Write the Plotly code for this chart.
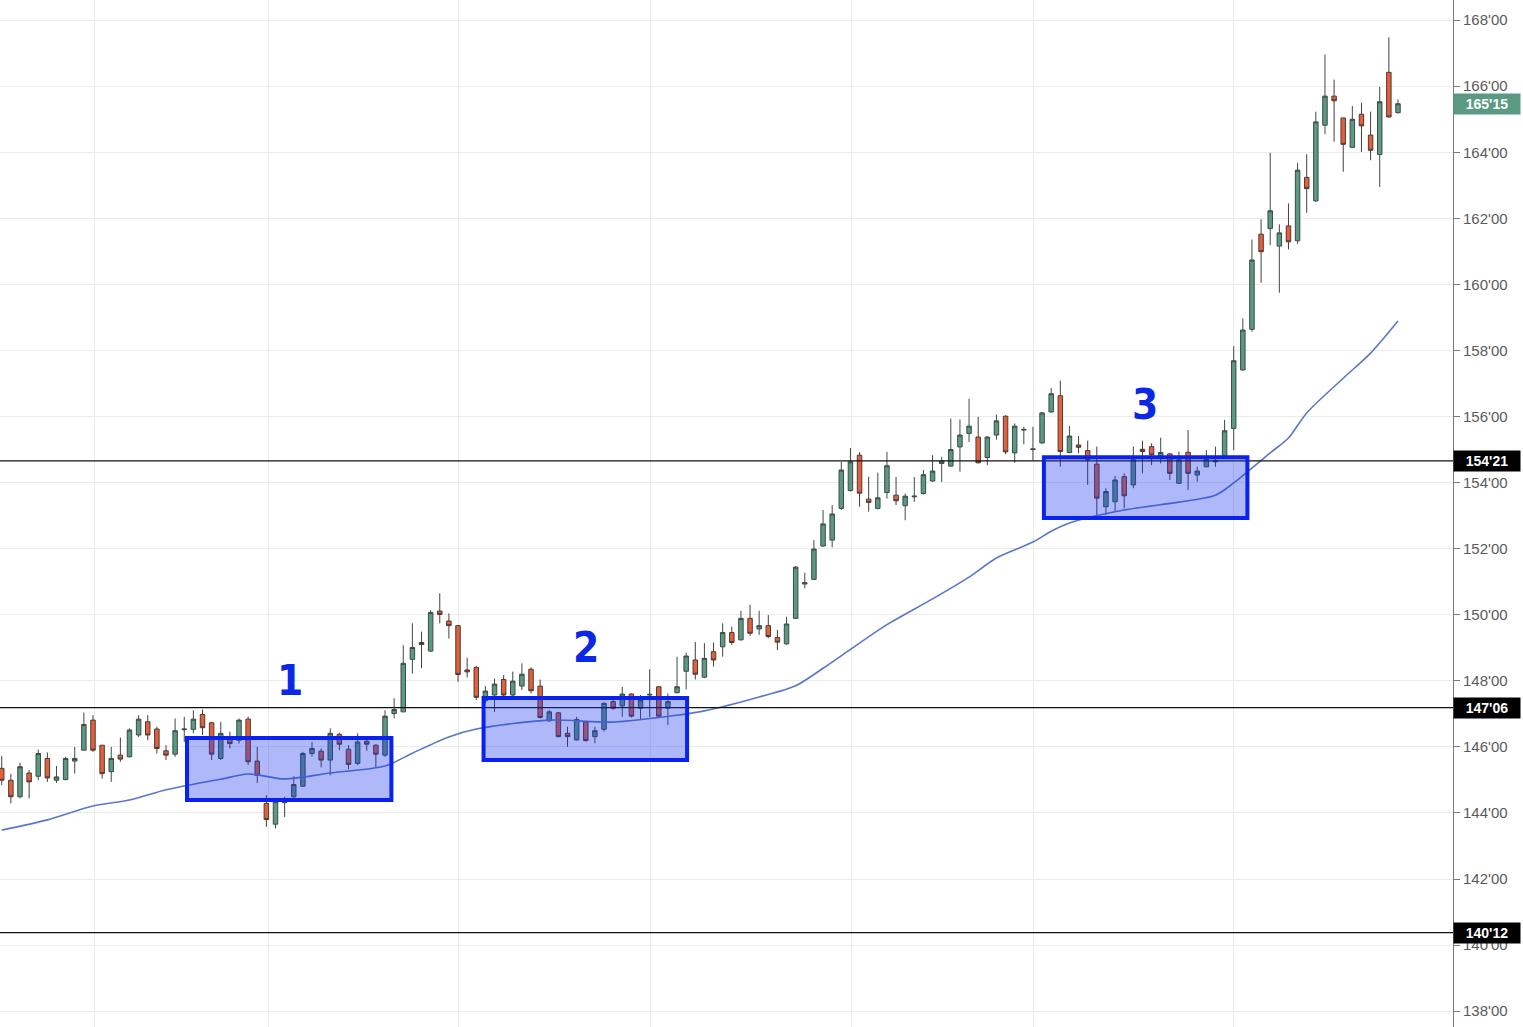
import plotly.graph_objects as go

# ---------------- data ----------------
opens = [145.35,144.99,144.49,145.21,145.11,145.65,144.99,145.01,145.57,145.90,
         146.81,146.05,145.25,145.75,145.70,146.36,146.76,146.54,145.88,145.78,
         146.52,146.53,146.98,146.73,145.65,146.28,146.20,146.84,145.57,144.29,
         143.66,144.31,144.49,144.81,145.80,145.87,145.60,146.38,145.93,145.50,
         146.17,146.05,145.75,147.01,147.06,148.65,149.16,148.90,150.11,149.81,
         149.67,148.33,148.40,147.40,147.57,148.04,147.57,147.84,148.35,147.84,
         146.79,147.03,146.41,146.21,146.76,146.31,146.53,147.37,147.24,147.60,
         147.17,147.57,147.82,147.17,147.64,148.29,148.63,148.11,148.88,149.03,
         149.46,149.24,149.89,149.57,149.67,149.31,149.12,149.89,150.93,151.07,
         152.08,152.26,153.22,153.76,154.83,153.50,153.22,153.70,153.62,153.30,
         153.57,153.67,154.05,154.58,154.50,155.08,155.49,155.38,154.76,155.44,
         156.01,154.90,155.59,155.00,155.20,156.14,156.63,154.91,155.14,154.97,
         154.56,153.27,153.42,154.18,153.93,155.01,155.09,154.81,154.87,153.98,
         154.92,154.23,154.48,154.63,154.81,155.64,157.41,158.64,161.52,161.69,
         161.16,161.77,161.32,163.24,162.53,164.82,165.70,165.04,164.15,165.15,
         164.52,163.93,166.42,165.20]
highs = [145.72,145.19,145.52,145.30,145.92,145.83,145.42,145.70,146.00,147.04,
         146.96,146.05,146.00,146.28,146.56,146.96,146.96,146.61,146.05,146.86,
         146.91,147.11,147.13,146.76,146.76,146.46,146.86,146.91,146.00,144.54,
         144.44,144.49,145.11,145.85,146.15,145.95,146.56,146.43,146.05,146.41,
         146.30,146.08,147.11,147.47,149.08,149.74,149.49,150.14,150.65,150.04,
         149.69,148.70,148.45,147.84,148.07,148.17,148.28,148.53,148.41,148.04,
         147.12,147.06,146.61,146.91,146.79,146.61,147.34,147.42,147.82,147.62,
         147.57,148.35,147.84,147.62,148.73,148.85,149.18,149.14,149.16,149.74,
         149.64,150.12,150.30,150.12,149.99,149.54,149.94,151.48,151.27,152.26,
         153.17,153.32,154.63,155.05,154.92,154.18,154.30,154.93,154.17,153.67,
         154.17,154.38,154.83,154.78,155.94,155.91,156.54,155.99,155.40,156.06,
         156.04,155.79,155.69,155.69,156.14,156.86,157.09,155.71,155.41,155.27,
         155.09,153.83,154.20,154.28,155.09,155.27,155.19,155.36,154.89,154.94,
         155.59,154.48,154.99,155.09,155.90,158.13,158.97,161.36,161.97,163.98,
         161.82,162.45,163.68,163.94,165.23,166.96,166.20,165.04,165.40,165.50,
         165.23,165.98,167.48,165.60]
lows = [144.84,144.29,144.44,144.44,144.99,144.94,144.91,144.99,145.19,145.90,
        145.85,145.04,144.94,145.55,145.68,146.30,146.20,145.80,145.60,145.70,
        146.15,146.41,146.36,145.60,145.60,145.95,146.10,145.45,144.91,143.58,
        143.53,143.88,144.44,144.79,145.70,145.38,145.14,145.90,145.32,145.45,
        145.88,145.38,145.70,146.86,147.06,148.22,148.38,148.88,149.74,149.28,
        147.97,148.10,147.42,147.32,147.06,147.47,147.54,147.72,147.62,146.86,
        146.76,146.29,146.00,146.19,146.16,146.11,146.46,147.12,146.91,146.89,
        146.81,146.91,146.89,146.66,147.62,147.74,148.04,148.08,148.43,148.73,
        149.09,149.22,149.36,149.39,149.29,148.93,149.09,149.89,150.80,151.05,
        152.06,152.04,153.17,153.73,153.27,153.12,153.19,153.52,153.32,152.86,
        153.42,153.64,154.02,154.02,154.48,154.33,155.23,154.58,154.53,155.30,
        154.86,154.60,155.16,154.68,155.18,156.12,154.48,154.89,154.89,153.93,
        153.02,153.02,153.12,153.22,153.83,154.28,154.53,154.58,154.08,153.96,
        153.78,154.03,154.46,154.48,154.81,154.98,157.39,158.57,160.05,161.19,
        159.75,161.06,161.22,162.17,162.50,164.55,164.32,163.41,164.14,164.01,
        163.76,162.95,165.05,165.17]
closes = [144.99,144.49,145.40,144.94,145.80,145.06,145.09,145.65,145.65,146.68,
          145.90,145.19,145.65,145.63,146.51,146.84,146.36,145.95,145.75,146.49,
          146.54,146.84,146.58,145.78,146.41,146.10,146.81,145.55,145.14,143.80,
          144.34,144.34,144.86,145.80,145.95,145.60,146.41,146.08,145.47,146.15,
          146.08,145.78,146.93,147.13,148.53,149.01,149.10,150.07,150.01,149.67,
          148.19,148.27,147.50,147.69,147.90,147.57,147.99,148.20,147.70,146.89,
          147.06,146.31,146.31,146.83,146.19,146.49,147.32,147.17,147.60,146.93,
          147.42,147.59,146.93,147.37,147.82,148.75,148.20,148.68,148.63,149.46,
          149.16,149.89,149.44,149.67,149.34,149.17,149.72,151.44,150.97,151.99,
          152.75,153.05,154.38,154.63,153.68,153.40,153.54,154.51,153.45,153.59,
          153.59,154.24,154.35,154.65,155.00,155.44,155.71,154.60,155.38,155.87,
          154.93,155.71,155.61,155.02,156.11,156.69,154.94,155.41,155.07,154.69,
          153.53,153.73,154.08,153.60,154.69,154.94,154.84,154.91,154.28,154.69,
          154.28,154.35,154.71,154.66,155.57,157.69,158.62,160.74,160.99,162.23,
          161.56,161.29,163.46,162.90,164.92,165.70,165.56,164.24,165.00,164.80,
          164.06,165.53,165.07,165.47]

# moving average read at selected bars
ma_bar = [0, 5, 10, 14, 18, 21, 24, 27, 31, 36, 42, 45, 49, 52, 60, 67, 74, 77,
          83, 87, 90, 93, 97, 102, 106, 109, 113, 115, 117, 123, 129, 133, 135,
          139, 141, 143, 147, 150, 153]
ma_val = [143.48, 143.79, 144.21, 144.39, 144.70, 144.87, 145.02, 145.18, 145.03,
          145.21, 145.42, 145.81, 146.30, 146.54, 146.81, 146.75, 146.96, 147.09,
          147.51, 147.85, 148.38, 148.95, 149.70, 150.48, 151.14, 151.72, 152.20,
          152.53, 152.78, 153.17, 153.41, 153.62, 153.99, 154.90, 155.35, 156.11,
          157.16, 157.92, 158.89]

# horizontal levels (price in 32nds)
level_prices = [154.65625, 147.1875, 140.375]
last_price = 165.46875

# consolidation zones: bar start, bar end, low, high, label
zone_start = [20.3, 52.8, 114.2]
zone_end = [42.7, 75.1, 136.5]
zone_low = [144.39, 145.60, 152.93]
zone_high = [146.27, 147.48, 154.77]
zone_label = ["1", "2", "3"]
zone_label_bar = [31.6, 64.0, 125.3]
zone_label_price = [148.02, 149.02, 156.38]

# axis ticks
y_ticks = list(range(138, 170, 2))
x_grid_bars = [10.2, 29.2, 50.1, 71.1, 93.1, 113.1, 135.0]


def fmt32(p):
    whole = int(p)
    frac = int(round((p - whole) * 32))
    if frac == 32:
        whole += 1
        frac = 0
    return f"{whole}'{frac:02d}"


bars = list(range(len(opens)))

GREEN = "#5b9a82"
RED = "#e5603a"

fig = go.Figure()

fig.add_trace(go.Candlestick(
    x=bars, open=opens, high=highs, low=lows, close=closes,
    increasing=dict(line=dict(color="#3d4a45", width=1), fillcolor=GREEN),
    decreasing=dict(line=dict(color="#4a3b36", width=1), fillcolor=RED),
    whiskerwidth=0, showlegend=False, hoverinfo="skip",
))

fig.add_trace(go.Scatter(
    x=ma_bar, y=ma_val, mode="lines",
    line=dict(color="#5a78c8", width=1.6, shape="spline", smoothing=0.8),
    showlegend=False, hoverinfo="skip",
))

shapes = []
for lv in level_prices:
    shapes.append(dict(type="line", xref="paper", x0=0, x1=1, yref="y", y0=lv, y1=lv,
                       line=dict(color="#111111", width=1.2), layer="above"))
for i in range(len(zone_start)):
    shapes.append(dict(type="rect", xref="x", yref="y",
                       x0=zone_start[i], x1=zone_end[i], y0=zone_low[i], y1=zone_high[i],
                       fillcolor="rgba(25,55,240,0.35)",
                       line=dict(color="#0a22f0", width=4), layer="above"))

annotations = []
for i in range(len(zone_label)):
    annotations.append(dict(x=zone_label_bar[i], y=zone_label_price[i], xref="x", yref="y",
                            text=f"<b>{zone_label[i]}</b>", showarrow=False,
                            font=dict(family="DejaVu Sans Condensed, Liberation Sans Narrow, sans-serif",
                                      size=42, color="#0a28e6")))
for lv in level_prices:
    annotations.append(dict(x=1, y=lv, xref="paper", yref="y", xanchor="left", yanchor="middle",
                            text=f"<b>{fmt32(lv)}</b>", showarrow=False, bgcolor="#000000",
                            width=64, height=18, borderpad=1,
                            font=dict(family="Liberation Sans, Arial, sans-serif", size=14, color="#ffffff")))
annotations.append(dict(x=1, y=last_price, xref="paper", yref="y", xanchor="left", yanchor="middle",
                        text=f"<b>{fmt32(last_price)}</b>", showarrow=False, bgcolor=GREEN,
                        width=64, height=18, borderpad=1,
                        font=dict(family="Liberation Sans, Arial, sans-serif", size=14, color="#ffffff")))

fig.update_layout(
    width=1523, height=1027,
    margin=dict(l=0, r=70, t=0, b=0),
    paper_bgcolor="#ffffff", plot_bgcolor="#ffffff",
    shapes=shapes, annotations=annotations,
    showlegend=False,
    xaxis=dict(range=[-0.19, 159.03], tickvals=x_grid_bars, showticklabels=False,
               showgrid=True, gridcolor="#ebebeb", gridwidth=1, zeroline=False,
               rangeslider=dict(visible=False), showline=False, ticks=""),
    yaxis=dict(range=[137.52, 168.61], side="right", tickvals=y_ticks,
               ticktext=[fmt32(t) for t in y_ticks],
               showgrid=True, gridcolor="#ebebeb", gridwidth=1, zeroline=False,
               showline=True, linecolor="#7a7a7a", linewidth=1,
               ticks="outside", ticklen=6, tickcolor="#7a7a7a",
               tickfont=dict(family="Liberation Sans, Arial, sans-serif", size=15, color="#5a5a5a")),
)

fig.write_html("out.html", config={"displayModeBar": False},
               post_script="document.body.style.margin='0';")
